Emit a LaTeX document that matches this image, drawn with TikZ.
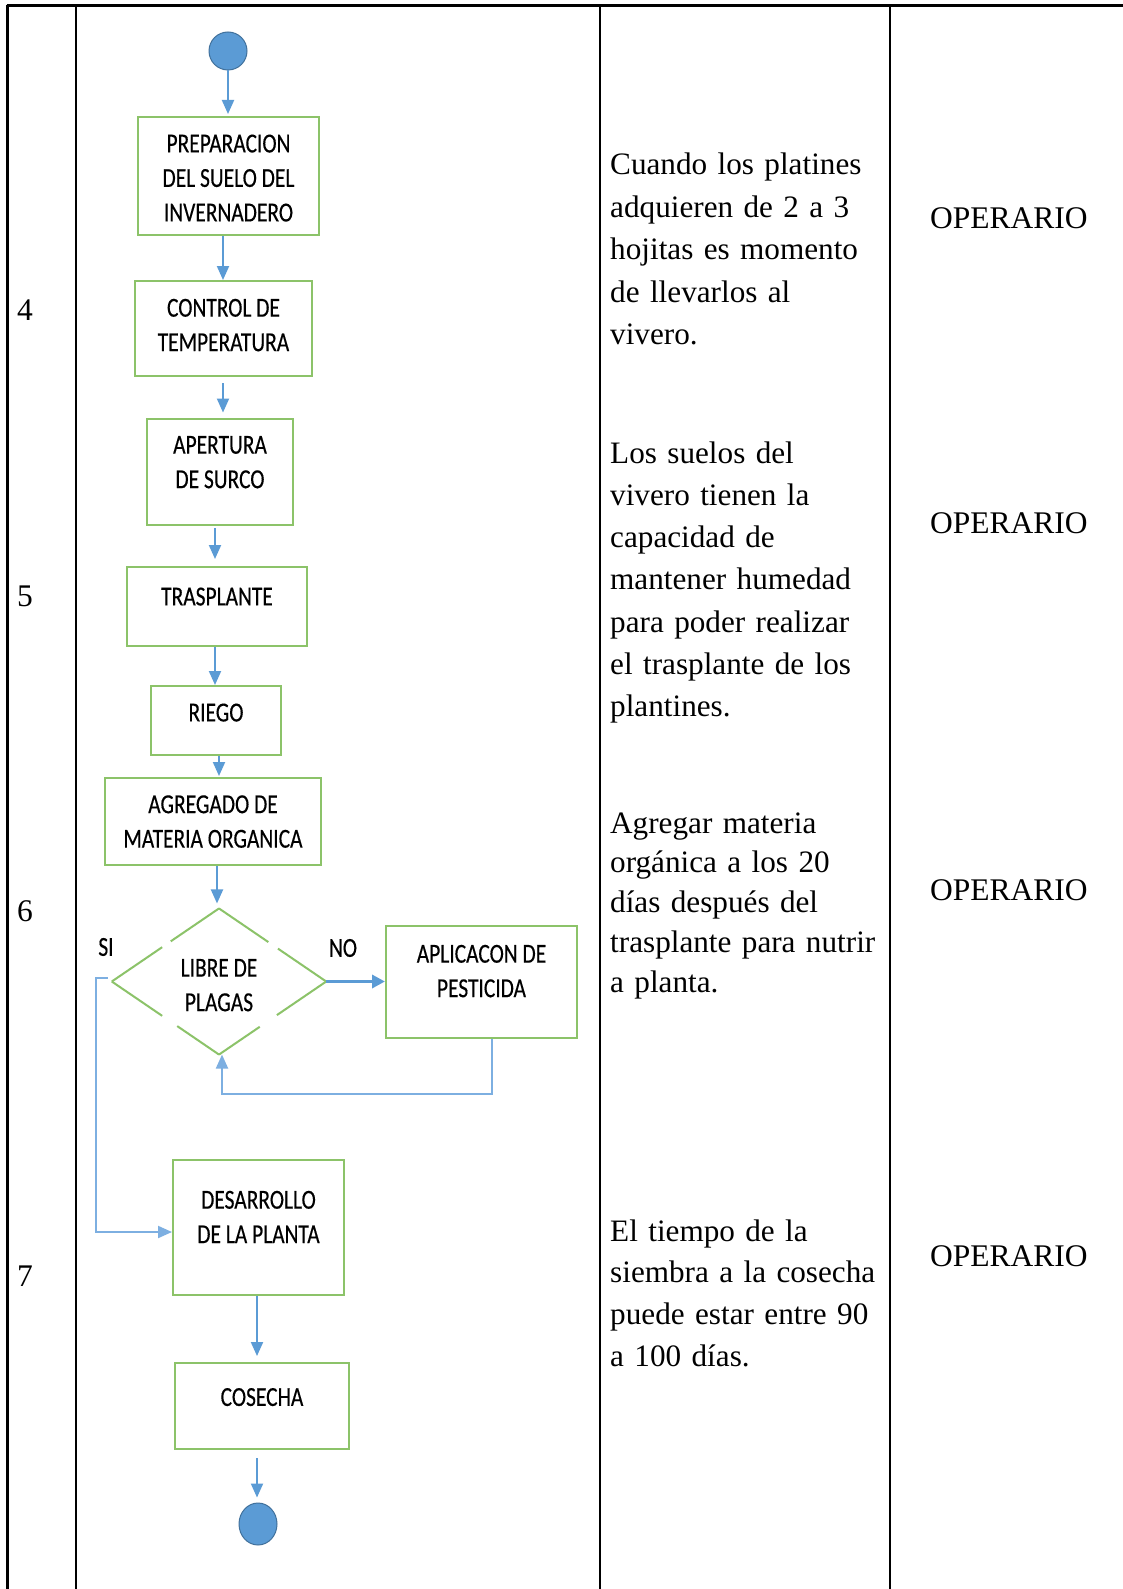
\documentclass[tikz,border=0pt]{standalone}
\usepackage{fontspec}
\setmainfont{Liberation Serif}
\newfontfamily\flowfont[FakeStretch=0.78,FakeBold=0.35]{Carlito}
\usetikzlibrary{arrows.meta,shapes.geometric,calc}
\definecolor{fgreen}{RGB}{140,195,105}
\definecolor{fblue}{RGB}{91,155,213}
\definecolor{fbluelight}{RGB}{125,175,225}
\definecolor{cborder}{RGB}{65,113,156}
\newcommand\liftx[2]{\raisebox{#1}[\height][\depth]{\begin{tabular}{@{}c@{}}#2\end{tabular}}}
\begin{document}
\begin{tikzpicture}[x=1pt,y=-1pt,
  tline/.style={line width=2.5pt,black},
  box/.style={draw=fgreen,line width=2pt,rectangle,inner sep=0pt,
    font=\flowfont\fontsize{27.5}{34.5}\selectfont},
  flowlbl/.style={inner sep=0pt,font=\flowfont\fontsize{27.5}{34.5}\selectfont},
  dline/.style={draw=fgreen,line width=2pt},
  arr/.style={draw=fblue,line width=2pt,-{Triangle[length=14pt,width=12pt]}},
  arrlight/.style={draw=fbluelight,line width=2pt,-{Triangle[length=14pt,width=12pt]}},
  body/.style={anchor=base west,inner sep=0pt,text width=300pt,align=left},
  cell/.style={anchor=base west,inner sep=0pt,font=\fontsize{31.5}{42.5}\selectfont},
  term/.style={fill=fblue,draw=cborder,line width=1pt,inner sep=0pt}
]
\useasboundingbox (0,0) rectangle (1123,1589);
\fill[white] (0,0) rectangle (1123,1589);

% table grid
\draw[tline] (6.5,5.5) -- (1123,5.5);
\draw[tline] (7.5,5.5) -- (7.5,1589);
\draw[tline] (76,5.5) -- (76,1589);
\draw[tline] (600,5.5) -- (600,1589);
\draw[tline] (890,5.5) -- (890,1589);

% row numbers
\node[cell] (n4) at (17,320) {4};
\node[cell] (n5) at (17,606) {5};
\node[cell] (n6) at (17,921) {6};
\node[cell] (n7) at (17,1286) {7};

% descriptions
\node[body,font=\fontsize{31.2}{42.5}\selectfont] (t1) at (610,175)
  {Cuando los platines\\adquieren de 2 a 3\\hojitas es momento\\de llevarlos al\\vivero.};
\node[body,font=\fontsize{31.2}{42.3}\selectfont] (t2) at (610,463)
  {Los suelos del\\vivero tienen la\\capacidad de\\mantener humedad\\para poder realizar\\el trasplante de los\\plantines.};
\node[body,font=\fontsize{31.2}{39.8}\selectfont] (t3) at (610,833)
  {Agregar materia\\orgánica a los 20\\días después del\\trasplante para nutrir\\a planta.};
\node[body,font=\fontsize{31.2}{41.9}\selectfont] (t4) at (610,1241)
  {El tiempo de la\\siembra a la cosecha\\puede estar entre 90\\a 100 días.};

% responsible
\node[cell] (o1) at (930,228.5) {OPERARIO};
\node[cell] (o2) at (930,533.5) {OPERARIO};
\node[cell] (o3) at (930,900.5) {OPERARIO};
\node[cell] (o4) at (930,1266.5) {OPERARIO};

% flowchart
\node[term,circle,minimum size=38pt] (start) at (228,51) {};
\node[box,minimum width=181pt,minimum height=118pt] (prep) at (228.5,176)
  {\liftx{-4pt}{PREPARACION\\DEL SUELO DEL\\INVERNADERO}};
\node[box,minimum width=177pt,minimum height=95pt] (ctrl) at (223.5,328.5)
  {\liftx{1.5pt}{CONTROL DE\\TEMPERATURA}};
\node[box,minimum width=146pt,minimum height=106pt] (apert) at (220,472)
  {\liftx{8pt}{APERTURA\\DE SURCO}};
\node[box,minimum width=180pt,minimum height=79pt] (trasp) at (217,606.5)
  {\liftx{8pt}{TRASPLANTE}};
\node[box,minimum width=130pt,minimum height=69pt] (riego) at (216,720.5)
  {\liftx{6pt}{RIEGO}};
\node[box,minimum width=216pt,minimum height=87pt] (agreg) at (213,821.5)
  {\liftx{-2pt}{AGREGADO DE\\MATERIA ORGANICA}};
\node[diamond,inner sep=0pt,minimum width=214pt,minimum height=143pt,
  font=\flowfont\fontsize{27.5}{34.5}\selectfont] (dec) at (219,981.5)
  {\liftx{-5.5pt}{LIBRE DE\\PLAGAS}};
\node[box,minimum width=191pt,minimum height=112pt] (aplic) at (481.5,982)
  {\liftx{9pt}{APLICACON DE\\PESTICIDA}};
\node[box,minimum width=171pt,minimum height=135pt] (desar) at (258.5,1227.5)
  {\liftx{8.5pt}{DESARROLLO\\DE LA PLANTA}};
\node[box,minimum width=174pt,minimum height=86pt] (cos) at (262,1406)
  {\liftx{7pt}{COSECHA}};
\node[term,ellipse,minimum width=38pt,minimum height=42pt] (fin) at (258,1524) {};

% diamond outline with the small breaks of the original
\draw[dline] (dec.north) -- ($(dec.north)!0.45!(dec.west)$)
  ($(dec.north)!0.53!(dec.west)$) -- (dec.west);
\draw[dline] (dec.north) -- ($(dec.north)!0.46!(dec.east)$)
  ($(dec.north)!0.55!(dec.east)$) -- (dec.east);
\draw[dline] (dec.east) -- ($(dec.east)!0.46!(dec.south)$)
  ($(dec.east)!0.62!(dec.south)$) -- (dec.south);
\draw[dline] (dec.west) -- ($(dec.west)!0.47!(dec.south)$)
  ($(dec.west)!0.61!(dec.south)$) -- (dec.south);

% labels
\node[flowlbl] (si) at (106,947) {SI};
\node[flowlbl] (no) at (343,948) {NO};

% connectors
\draw[arr,shorten >=2pt] (start.south) -- (start.south |- prep.north);
\draw[arr] ([xshift=-5.5pt]prep.south) -- ([xshift=-5.5pt]prep.south |- ctrl.north);
\draw[arr,shorten <=6pt,shorten >=5.5pt] ([xshift=-0.5pt]ctrl.south) -- ([xshift=-0.5pt]ctrl.south |- apert.north);
\draw[arr,shorten <=2pt,shorten >=7pt] ([xshift=-5pt]apert.south) -- ([xshift=-5pt]apert.south |- trasp.north);
\draw[arr] ([xshift=-2pt]trasp.south) -- ([xshift=-2pt]trasp.south |- riego.north);
\draw[arr,shorten >=1pt] ([xshift=3pt]riego.south) -- ([xshift=3pt]riego.south |- agreg.north);
\draw[arr,shorten >=5pt] ([xshift=4pt]agreg.south) -- ([xshift=4pt]agreg.south |- dec.north);
\draw[arr,line width=3.5pt,-{Triangle[length=13pt,width=13pt]}] (dec.east) -- (dec.east -| aplic.west);
\draw[arrlight] ([xshift=10.5pt]aplic.south) -- ++(0,55) -| ([xshift=3pt]dec.south);
\draw[arrlight] ([xshift=-4pt,yshift=4pt]dec.west) -- ++(-12,0) |- ([yshift=-4.5pt]desar.west);
\draw[arr,shorten >=6pt] ([xshift=-1.5pt]desar.south) -- ([xshift=-1.5pt]desar.south |- cos.north);
\draw[arr,shorten <=8pt,shorten >=5pt] ([xshift=-5pt]cos.south) -- ([xshift=-5pt]cos.south |- fin.north);
\end{tikzpicture}
\end{document}
